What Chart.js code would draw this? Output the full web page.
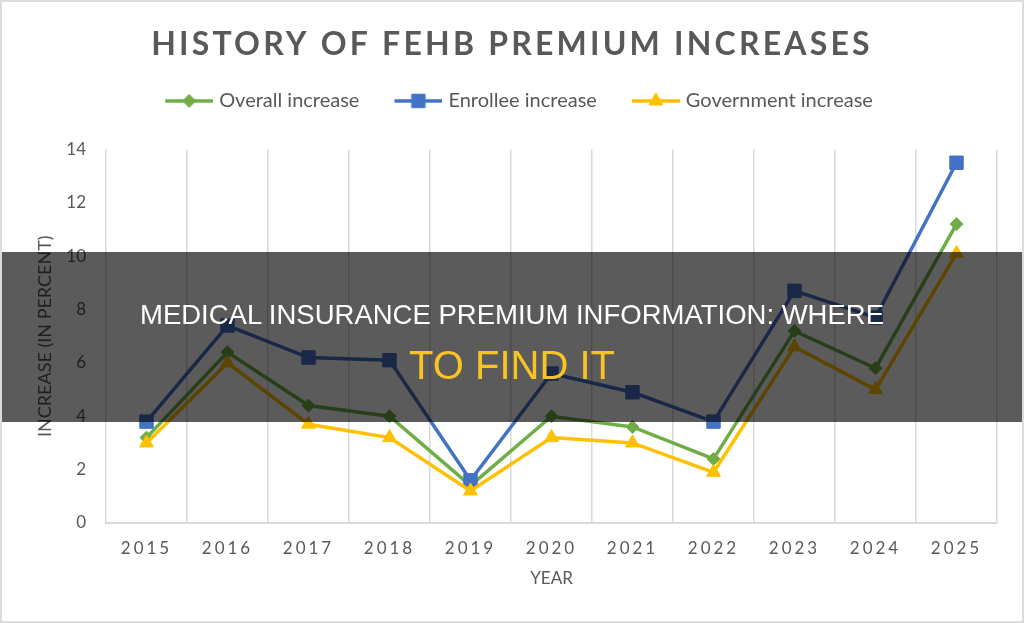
<!DOCTYPE html>
<html>
<head>
<meta charset="utf-8">
<script src="https://cdn.jsdelivr.net/npm/chart.js@4/dist/chart.umd.min.js"></script>
<style>
    html, body { margin: 0; padding: 0; background: #fff; }
    #wrap { position: relative; width: 1024px; height: 623px; overflow: hidden; }
    #premium-chart { position: absolute; left: 0; top: 0; }
    .band {
        position: absolute; left: 0; top: 252px; width: 1024px; height: 170px;
        background: rgba(0, 0, 0, 0.645);
    }
    .band-line {
        position: absolute; left: 0; width: 1024px; text-align: center;
        font-family: "Liberation Sans", Arial, sans-serif; line-height: 1; white-space: nowrap;
    }
    .band-line.first { top: 301px; font-size: 27.5px; color: #ffffff; }
    .band-line.second { top: 345px; font-size: 40px; color: #f7c325; }
    .frame {
        position: absolute; left: 0; top: 0; width: 1024px; height: 623px;
        box-sizing: border-box; border: 2px solid #dcdcdc; pointer-events: none;
    }
</style>
</head>
<body>
<div id="wrap">
    <canvas id="premium-chart" width="1024" height="623"></canvas>
    <div class="band"></div>
    <div class="band-line first">MEDICAL INSURANCE PREMIUM INFORMATION: WHERE</div>
    <div class="band-line second">TO FIND IT</div>
    <div class="frame"></div>
</div>
<script>
// 图表数据
const years = ['2015', '2016', '2017', '2018', '2019', '2020', '2021', '2022', '2023', '2024', '2025'];
const overallIncrease = [3.2, 6.4, 4.4, 4.0, 1.4, 4.0, 3.6, 2.4, 7.2, 5.8, 11.2];
const enrolleeIncrease = [3.8, 7.4, 6.2, 6.1, 1.6, 5.6, 4.9, 3.8, 8.7, 7.7, 13.5];
const governmentIncrease = [3.0, 6.0, 3.7, 3.2, 1.2, 3.2, 3.0, 1.9, 6.6, 5.0, 10.1];
const seriesNames = ['Overall increase', 'Enrollee increase', 'Government increase'];
const yMin = 0, yMax = 14, yStep = 2;

const textColor = '#595959';
const gridColor = '#d9d9d9';
const seriesColors = ['#70ad47', '#4472c4', '#ffc000'];
const seriesPoints = [
    { style: 'rectRot', radius: 6.5 },
    { style: 'rect', radius: 9.5 },
    { style: 'triangle', radius: 8 }
];

/**
 * 图例图标: 线段 + 标记
 */
function makeLegendIcon(color, point) {
    const icon = document.createElement('canvas');
    icon.width = 66;
    icon.height = 22;
    const c = icon.getContext('2d');
    c.strokeStyle = color;
    c.lineWidth = 3.5;
    c.beginPath();
    c.moveTo(18, 11);
    c.lineTo(66, 11);
    c.stroke();
    c.fillStyle = color;
    c.lineWidth = 1;
    Chart.helpers.drawPoint(c, { pointStyle: point.style, radius: point.radius, rotation: 0, borderWidth: 1 }, 42, 11);
    return icon;
}
const legendIcons = seriesColors.map((color, i) => makeLegendIcon(color, seriesPoints[i]));

/**
 * 字间距: 标题和 X 轴刻度
 */
function wrapSpacing(ctx, obj, method, spacing) {
    if (!obj || obj['_plain_' + method]) return;
    const plain = obj[method];
    obj['_plain_' + method] = plain;
    obj[method] = function (...args) {
        ctx.save();
        ctx.letterSpacing = spacing;
        plain.apply(this, args);
        ctx.restore();
    };
}
const spacingPlugin = {
    id: 'spacing',
    beforeLayout(chart) {
        wrapSpacing(chart.ctx, chart.titleBlock, 'draw', '3.2px');
        wrapSpacing(chart.ctx, chart.scales.x, 'drawLabels', '3px');
        // 图例下方留白, 绘图区从 y=150 开始
        const legend = chart.legend;
        if (legend && !legend._plainFit) {
            legend._plainFit = legend.fit;
            legend.fit = function () {
                legend._plainFit.call(this);
                this.height += 28.5;
            };
        }
    }
};

function makeDataset(i, data, order) {
    return {
        label: seriesNames[i],
        data: data,
        borderColor: seriesColors[i],
        backgroundColor: seriesColors[i],
        borderWidth: 3.5,
        pointStyle: seriesPoints[i].style,
        pointRadius: seriesPoints[i].radius,
        pointBorderWidth: 1,
        pointBackgroundColor: seriesColors[i],
        pointBorderColor: seriesColors[i],
        tension: 0,
        fill: false,
        order: order
    };
}

const ctx = document.getElementById('premium-chart').getContext('2d');
const premiumChart = new Chart(ctx, {
    type: 'line',
    data: {
        labels: years,
        datasets: [
            makeDataset(0, overallIncrease, 3),
            makeDataset(1, enrolleeIncrease, 2),
            makeDataset(2, governmentIncrease, 1)
        ]
    },
    plugins: [spacingPlugin],
    options: {
        responsive: false,
        animation: false,
        layout: { padding: 0 },
        plugins: {
            title: {
                display: true,
                text: 'HISTORY OF FEHB PREMIUM INCREASES',
                color: textColor,
                font: { family: 'Lato', size: 32, weight: 'bold', lineHeight: 1.2 },
                padding: { top: 25.5, bottom: 6 }
            },
            legend: {
                display: true,
                labels: {
                    color: textColor,
                    font: { family: 'Lato', size: 20 },
                    usePointStyle: true,
                    pointStyleWidth: 58,
                    padding: 21,
                    sort: (a, b) => a.datasetIndex - b.datasetIndex,
                    generateLabels: function (chart) {
                        const items = Chart.defaults.plugins.legend.labels.generateLabels(chart);
                        items.forEach(item => { item.pointStyle = legendIcons[item.datasetIndex]; });
                        return items;
                    }
                }
            },
            tooltip: { enabled: false }
        },
        scales: {
            x: {
                offset: true,
                grid: { display: true, offset: true, color: gridColor, lineWidth: 1.5, drawTicks: false },
                border: { display: true, color: gridColor, width: 2 },
                ticks: { color: textColor, font: { family: 'Lato', size: 17 }, padding: 15 },
                title: {
                    display: true, text: 'YEAR', color: textColor,
                    font: { family: 'Lato', size: 17 }, padding: { top: 0, bottom: 34 }
                },
                afterFit: function (scale) {
                    scale.height = 100;
                    scale.paddingRight = 27;
                }
            },
            y: {
                min: yMin,
                max: yMax,
                grid: { display: false, drawTicks: false },
                border: { display: false },
                ticks: { stepSize: yStep, color: textColor, font: { family: 'Lato', size: 17 }, padding: 20 },
                title: {
                    display: true, text: 'INCREASE (IN PERCENT)', color: textColor,
                    font: { family: 'Lato', size: 18 }, padding: { top: 34.5, bottom: 0 }
                },
                afterFit: function (scale) {
                    scale.width = 106;
                }
            }
        }
    }
});
</script>
</body>
</html>
